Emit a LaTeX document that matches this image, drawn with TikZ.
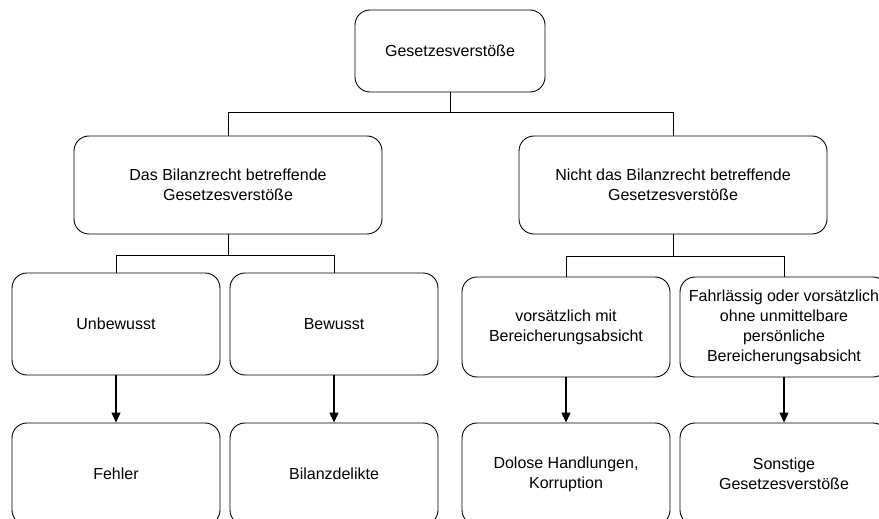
\documentclass[tikz,border=0pt]{standalone}
\usepackage{fontspec}
\setmainfont{Liberation Sans}
\usetikzlibrary{arrows.meta}

\begin{document}
\begin{tikzpicture}[x=1pt,y=-1pt,
	kasten/.style={draw,rounded corners=15pt,line width=0.9pt,align=center,inner sep=0pt,
		font=\fontsize{16}{20}\selectfont},
	linie/.style={line width=1pt},
	pfeil/.style={line width=1.2pt,-{Triangle[length=10pt,width=9pt]}}]
						\useasboundingbox (0,0) rectangle (879,519);
						\clip (0,0) rectangle (879,519);
						
						\node[kasten,minimum width=190pt,minimum height=82pt] (gesetz) at (450,51) {Gesetzesverstöße};
						
						\node[kasten,minimum width=308pt,minimum height=98pt] (bilanz) at (228,185) {Das Bilanzrecht betreffende\\Gesetzesverstöße};
						\node[kasten,minimum width=308pt,minimum height=98pt] (nichtbilanz) at (673,185) {Nicht das Bilanzrecht betreffende\\Gesetzesverstöße};
						
						\node[kasten,minimum width=208pt,minimum height=102pt] (unbewusst) at (116,324) {Unbewusst};
						\node[kasten,minimum width=208pt,minimum height=102pt] (bewusst) at (334,324) {Bewusst};
						\node[kasten,minimum width=208pt,minimum height=100pt] (vorsatz) at (566,327) {vorsätzlich mit\\Bereicherungsabsicht};
						\node[kasten,minimum width=208pt,minimum height=100pt] (fahrlaessig) at (784,327) {Fahrlässig oder vorsätzlich\\ohne unmittelbare\\persönliche\\Bereicherungsabsicht};
						
						\node[kasten,minimum width=208pt,minimum height=102pt] (fehler) at (116,474) {Fehler};
						\node[kasten,minimum width=208pt,minimum height=102pt] (delikte) at (334,474) {Bilanzdelikte};
						\node[kasten,minimum width=208pt,minimum height=102pt] (dolos) at (566,474) {Dolose Handlungen,\\Korruption};
						\node[kasten,minimum width=208pt,minimum height=102pt] (sonstige) at (784,474) {Sonstige\\Gesetzesverstöße};
						
						\coordinate (g1) at (450,113);
						\coordinate (b1) at (228,255);
						\coordinate (n1) at (673,256);
						
						\draw[linie] (gesetz) -- (g1);
						\draw[linie] (g1) -| (bilanz);
						\draw[linie] (g1) -| (nichtbilanz);
						
						\draw[linie] (bilanz) -- (b1);
						\draw[linie] (b1) -| (unbewusst);
						\draw[linie] (b1) -| (bewusst);
						\draw[linie] (nichtbilanz) -- (n1);
						\draw[linie] (n1) -| (vorsatz);
						\draw[linie] (n1) -| (fahrlaessig);
						
						\draw[pfeil] (unbewusst) -- (fehler);
						\draw[pfeil] (bewusst) -- (delikte);
						\draw[pfeil] (vorsatz) -- (dolos);
						\draw[pfeil] (fahrlaessig) -- (sonstige);
					\end{tikzpicture}
\end{document}
